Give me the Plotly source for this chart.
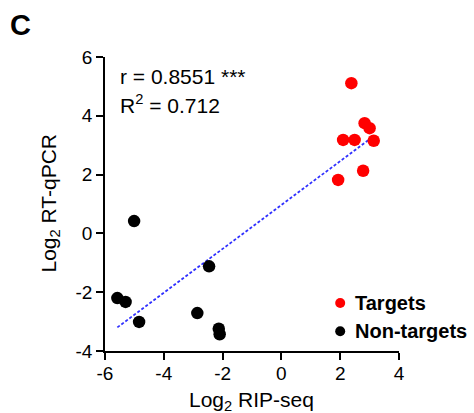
import numpy as np
import plotly.graph_objects as go

# Data
targets_x = [2.38, 2.83, 3.00, 2.10, 2.49, 3.14, 2.78, 1.93]
targets_y = [5.11, 3.75, 3.58, 3.18, 3.18, 3.15, 2.13, 1.82]
nontargets_x = [-5.01, -2.46, -5.58, -5.30, -4.84, -2.86, -2.13, -2.10]
nontargets_y = [0.42, -1.12, -2.20, -2.33, -3.01, -2.71, -3.24, -3.43]
x_ticks = [-6, -4, -2, 0, 2, 4]
y_ticks = [-4, -2, 0, 2, 4, 6]
legend_names = ["Targets", "Non-targets"]
legend_colors = ["#ff0000", "#000000"]

all_x = np.array(targets_x + nontargets_x)
all_y = np.array(targets_y + nontargets_y)
slope, intercept = np.polyfit(all_x, all_y, 1)
fit_x = np.array([all_x.min(), all_x.max()])
fit_y = slope * fit_x + intercept

FONT = "Liberation Sans, Arial, sans-serif"

fig = go.Figure()
fig.add_trace(go.Scatter(x=fit_x, y=fit_y, mode="lines",
                         line=dict(color="#2f2fff", width=1.8, dash="3px,2px"),
                         showlegend=False, hoverinfo="skip"))
fig.add_trace(go.Scatter(x=targets_x, y=targets_y, mode="markers", name=legend_names[0],
                         marker=dict(color=legend_colors[0], size=12.5), showlegend=False))
fig.add_trace(go.Scatter(x=nontargets_x, y=nontargets_y, mode="markers", name=legend_names[1],
                         marker=dict(color=legend_colors[1], size=12.5), showlegend=False))

axis_common = dict(showline=True, linecolor="black", linewidth=1.5, ticks="outside",
                   ticklen=7, tickwidth=1.5, tickcolor="black", showgrid=False,
                   zeroline=False, tickfont=dict(size=19, color="black", family=FONT),
                   mirror=False, automargin=False)

fig.update_xaxes(range=[-6, 4], tickvals=x_ticks, ticktext=[str(v) for v in x_ticks],
                 ticklabelstandoff=-3, **axis_common)
fig.update_yaxes(range=[-4, 6], tickvals=y_ticks, ticktext=[str(v) for v in y_ticks], **axis_common)

# Axis titles
fig.add_annotation(text="Log<sub>2</sub> RIP-seq", xref="paper", yref="paper",
                   x=0.499, y=-0.17, xanchor="center", yanchor="middle", showarrow=False,
                   font=dict(size=21, color="black", family=FONT))
fig.add_annotation(text="Log<sub>2</sub> RT-qPCR", xref="paper", yref="paper",
                   x=-0.188, y=0.504, xanchor="center", yanchor="middle", showarrow=False,
                   textangle=-90, font=dict(size=21, color="black", family=FONT))

fig.add_annotation(text="<b>C</b>", xref="paper", yref="paper", x=-0.33, y=1.17,
                   xanchor="left", yanchor="top", showarrow=False,
                   font=dict(size=29, color="black", family=FONT))
fig.add_annotation(text="r = 0.8551 ***", xref="paper", yref="paper",
                   x=0.045, y=0.933, xanchor="left", yanchor="middle", showarrow=False,
                   font=dict(size=21, color="black", family=FONT))
fig.add_annotation(text="R<sup>2</sup> = 0.712", xref="paper", yref="paper",
                   x=0.045, y=0.840, xanchor="left", yanchor="middle", showarrow=False,
                   font=dict(size=21, color="black", family=FONT))

# Legend drawn manually (keeps plot area fixed)
leg_y = [0.163, 0.067]
for name, col, yy in zip(legend_names, legend_colors, leg_y):
    r_x, r_y = 5.0 / 294, 5.0 / 293.3
    fig.add_shape(type="circle", xref="paper", yref="paper",
                  x0=0.800 - r_x, x1=0.800 + r_x, y0=yy - r_y, y1=yy + r_y,
                  fillcolor=col, line=dict(width=0))
    fig.add_annotation(text="<b>%s</b>" % name, xref="paper", yref="paper",
                       x=0.842, y=yy, xanchor="left", yanchor="middle", showarrow=False,
                       font=dict(size=20, color="black", family=FONT))

fig.update_layout(
    width=474, height=413,
    margin=dict(l=105, r=75, t=57, b=62),
    plot_bgcolor="white", paper_bgcolor="white",
    font=dict(family=FONT, color="black"),
    showlegend=False,
)

fig.write_html("out.html", config={"displayModeBar": False},
               post_script="document.body.style.margin='0';document.body.style.overflow='hidden';")
